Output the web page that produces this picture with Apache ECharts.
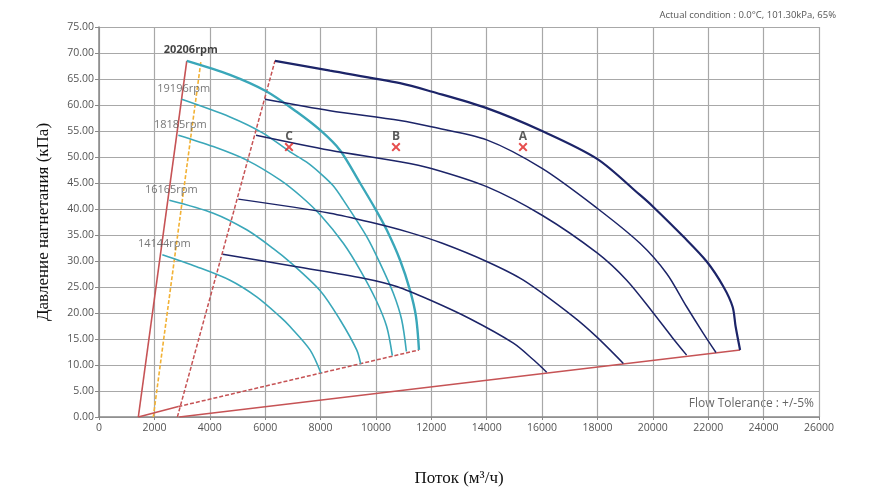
<!DOCTYPE html>
<html><head><meta charset="utf-8">
<script src="https://cdn.jsdelivr.net/npm/echarts@6/dist/echarts.min.js"></script>
<style>html,body{margin:0;padding:0;background:#fff}#c{width:870px;height:496px}</style>
</head><body><div id="c"></div>
<script>
// ---- data ----
var xTicks = [0,2000,4000,6000,8000,10000,12000,14000,16000,18000,20000,22000,24000,26000];
var rpmNames = ['20206rpm','19196rpm','18185rpm','16165rpm','14144rpm'];
var c20206 = [[3170,68.5],[4730,65.8],[6055,62.6],[7138,58.7],[7980,55.2],[8703,51.3],[9425,45.0],[10003,39.8],[10388,36.0],[10870,30.2],[11230,24.4],[11447,19.3],[11555,12.9]];
var c19196 = [[2986,61.1],[4730,57.7],[5922,54.6],[6897,51.0],[7500,49.0],[8003,46.8],[8450,44.5],[8812,41.8],[9667,34.7],[10147,29.6],[10629,23.8],[10930,18.7],[11100,12.6]];
var c18185 = [[2865,54.2],[4128,52.0],[5333,49.4],[6536,45.6],[7300,42.4],[8003,38.8],[8823,33.4],[9425,28.3],[10003,22.5],[10388,17.4],[10592,11.8]];
var c16165 = [[2540,41.7],[4128,39.2],[5333,36.0],[6295,32.4],[6897,29.8],[8003,24.2],[8703,18.7],[9305,12.9],[9450,10.2]];
var c14144 = [[2287,31.2],[3527,28.9],[4730,26.3],[5694,23.1],[6536,19.3],[6897,17.4],[7620,12.9],[8017,8.4]];
var d1 = [[6355,68.5],[8342,66.6],[10870,64.2],[12000,62.6],[14000,59.4],[16000,55.0],[18000,49.6],[19535,42.7],[20017,40.4],[21100,34.7],[21944,29.9],[22545,25.1],[22880,21.2],[22989,17.4],[23150,12.9]];
var d2 = [[5994,61.1],[8342,58.9],[10870,57.0],[12000,55.8],[14000,53.3],[16000,47.8],[18000,40.1],[19535,33.4],[20498,27.6],[21220,21.2],[21822,16.1],[22280,12.4]];
var d3 = [[5669,54.2],[8342,51.3],[10870,49.1],[12000,47.8],[14000,44.3],[16000,38.8],[18000,31.5],[19055,26.3],[20017,20.0],[20700,15.3],[21220,11.9]];
var d4 = [[5031,41.9],[8342,39.2],[10000,37.2],[11200,35.5],[12400,33.4],[14000,29.9],[15325,26.3],[17128,19.3],[17972,15.4],[18935,10.3]];
var d5 = [[4466,31.3],[7138,28.9],[9545,26.7],[10750,25.1],[11952,22.5],[13397,18.9],[14964,14.2],[15687,11.0],[16166,8.6]];
var surgeLine = [[1420,0],[3170,68.5]];
var orangeLine = [[1960,0],[3683,68.5]];
var lowLeftSolid = [[1420,0],[2865,2.0]];
var lowDashed = [[2865,2.0],[11555,12.9]];
var midDashed = [[2830,0],[6355,68.5]];
var bottomSolid = [[2900,0],[23150,12.9]];
var pointNames = ['C','B','A'];
var pointFlow = [6861,10725,15311];
var pointPressure = [51.9,51.9,51.9];

// ---- chart ----
var cyanCurves = [c20206,c19196,c18185,c16165,c14144];
var blueCurves = [d1,d2,d3,d4,d5];
var CYAN = '#3aa7b9', BLUE = '#1c2468', RED = '#c65355', ORANGE = '#f2b134';
var series = [];
function line(data, color, width, type, z){
  series.push({type:'line', data:data, showSymbol:false, symbol:'none', silent:true, z:z||2,
    lineStyle:{color:color, width:width, type:type||'solid'}, animation:false});
}
line(surgeLine, RED, 1.6);
line(orangeLine, ORANGE, 1.6, [4,2]);
line(lowLeftSolid, RED, 1.6);
line(lowDashed, RED, 1.5, [4,2]);
line(midDashed, RED, 1.5, [4,2]);
line(bottomSolid, RED, 1.6);
cyanCurves.forEach(function(c,i){
  series.push({type:'line', data:c, smooth:0.3, showSymbol:false, symbol:'none', silent:true, z:3,
    lineStyle:{color:CYAN, width:i===0?2.4:1.6}, animation:false});
});
blueCurves.forEach(function(c,i){
  series.push({type:'line', data:c, smooth:0.3, showSymbol:false, symbol:'none', silent:true, z:3,
    lineStyle:{color:BLUE, width:i===0?2.2:1.5}, animation:false});
});
// rpm labels at start of each cyan curve
series.push({type:'scatter', symbolSize:0, silent:true, z:5, animation:false,
  data: cyanCurves.map(function(c,i){ return {value:c[0], name:rpmNames[i],
    label:{show:true, position:'top', distance:5, offset:[i===0?4:2,0], formatter:rpmNames[i],
      fontFamily:'Open Sans', fontSize:11, letterSpacing:-0.3,
      color: i===0 ? '#111' : '#555', fontWeight: i===0 ? 'bold':'normal'}}; })
});
// A/B/C markers
series.push({type:'scatter', silent:true, z:6, animation:false,
  symbol:'path://M0,1.6L1.6,0L5,3.4L8.4,0L10,1.6L6.6,5L10,8.4L8.4,10L5,6.6L1.6,10L0,8.4L3.4,5Z', symbolSize:9,
  itemStyle:{color:'#e02020'},
  data: pointNames.map(function(n,i){ return {value:[pointFlow[i], pointPressure[i]], name:n}; }),
  label:{show:true, position:'top', distance:0, formatter:'{b}', fontFamily:'Open Sans', fontSize:12, fontWeight:'bold', color:'#333'}
});

var chart = echarts.init(document.getElementById('c'), null, {renderer:'canvas'});
chart.setOption({
  animation:false,
  grid:{left:99, right:51, top:27, bottom:79, containLabel:false},
  xAxis:{type:'value', min:0, max:26000, interval:2000,
    name:'Поток (м³/ч)', nameLocation:'middle', nameGap:53,
    nameTextStyle:{fontFamily:'Liberation Serif', fontSize:17, color:'#111'},
    axisLine:{show:true, lineStyle:{color:'#888', width:1.5}},
    axisTick:{show:true, length:3, lineStyle:{color:'#888'}},
    axisLabel:{fontFamily:'Open Sans', fontSize:10.5, color:'#555', margin:6,
      formatter:function(v){return String(v);}},
    splitLine:{show:true, lineStyle:{color:'#a8a8a8', width:1.2}}},
  yAxis:{type:'value', min:0, max:75, interval:5,
    name:'Давление нагнетания (кПа)', nameLocation:'middle', nameGap:47, nameRotate:90,
    nameTextStyle:{fontFamily:'Liberation Serif', fontSize:17, color:'#111'},
    axisLine:{show:true, lineStyle:{color:'#888', width:1.5}},
    axisTick:{show:true, length:4, lineStyle:{color:'#888'}},
    axisLabel:{fontFamily:'Open Sans', fontSize:10.5, color:'#555', margin:5,
      formatter:function(v){return v.toFixed(2);}},
    splitLine:{show:true, lineStyle:{color:'#a8a8a8', width:1.2}}},
  graphic:[
    {type:'text', right:34, top:10, style:{text:'Actual condition : 0.0°C, 101.30kPa, 65%', font:'9.5px "Open Sans"', fill:'#555'}},
    {type:'text', right:56, top:398, style:{text:'Flow Tolerance : +/-5%', font:'12px "Open Sans"', fill:'#666'}}
  ],
  series:series
});
</script></body></html>
